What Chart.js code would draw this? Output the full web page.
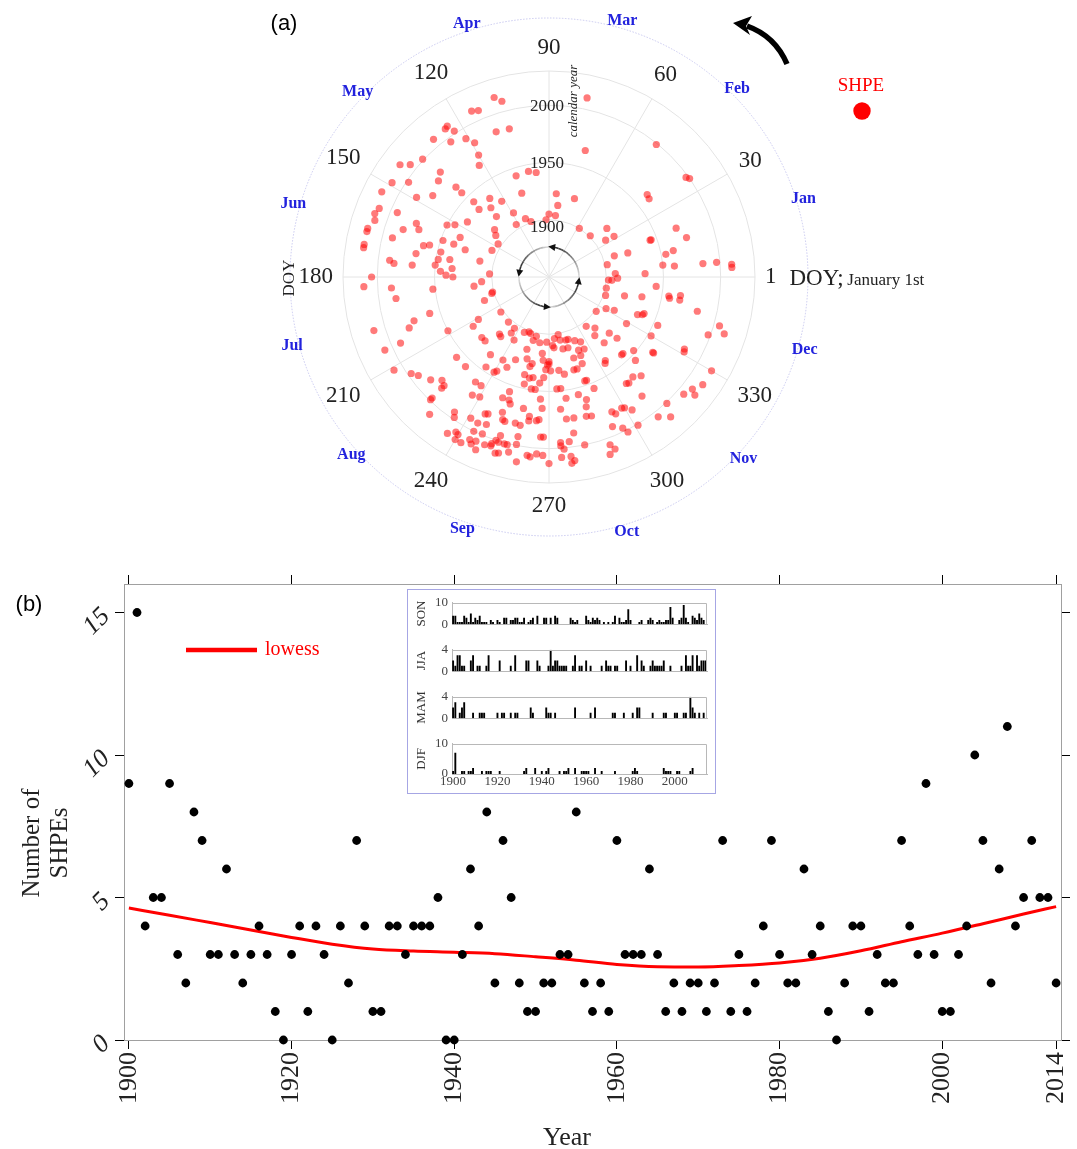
<!DOCTYPE html>
<html>
<head>
<meta charset="utf-8">
<script src="https://cdn.jsdelivr.net/npm/chart.js@4/dist/chart.umd.min.js"></script>
<style>
  body { margin: 0; background: #fff; }
  #page { position: relative; width: 1077px; height: 1149px; overflow: hidden; background: #fff; }
  canvas { position: absolute; }
  .inset-box { position: absolute; left: 407px; top: 589px; width: 307px; height: 203px; border: 1px solid #a6a6e4; background: #fff; }
</style>
</head>
<body>
<div id="page">
  <canvas id="polar" width="1077" height="545" style="left:0;top:0"></canvas>
  <canvas id="counts" width="1077" height="604" style="left:0;top:545px"></canvas>
  <div class="inset-box"></div>
  <canvas id="son" width="305" height="45" style="left:407px;top:591px"></canvas>
  <canvas id="jja" width="305" height="45" style="left:407px;top:638px"></canvas>
  <canvas id="mam" width="305" height="45" style="left:407px;top:685px"></canvas>
  <canvas id="djf" width="305" height="60" style="left:407px;top:732px"></canvas>
</div>
<script>
const SERIF = '"Liberation Serif", "Times New Roman", serif';
const SANS = '"Liberation Sans", Arial, sans-serif';

// ---- (a) polar: day of year vs calendar year ----
const DOY_TICKS = ['1', '30', '60', '90', '120', '150', '180', '210', '240', '270', '300', '330'];
const MONTHS = ['Jan', 'Feb', 'Mar', 'Apr', 'May', 'Jun', 'Jul', 'Aug', 'Sep', 'Oct', 'Nov', 'Dec'];
const RING_YEARS = [1850, 1900, 1950, 2000, 2030];
const RING_LABELS = [1900, 1950, 2000];

const shpeDoy = [
  108,106,117,115,126,127,125,112,106,132,128,123,121,122,124,139,143,145,138,141,
  148,151,155,138,138,151,147,109,102,98,110,129,124,137,132,138,121,133,114,110,
  91,94,124,160,159,162,164,167,168,172,173,164,168,160,162,155,153,148,158,163,
  168,167,163,164,141,144,149,157,172,169,173,172,176,177,177,176,169,177,179,181,179,
  79,75,52,37,35,41,39,86,84,73,85,59,46,41,33,32,18,17,12,3,
  2,20,20,21,16,11,12,6,5,5,5,4,3,
  364,362,362,354,347,351,353,360,356,355,357,355,352,349,347,345,336,338,329,342,
  344,343,341,334,311,316,312,321,322,314,335,329,328,337,336,335,330,326,323,325,
  317,315,312,323,318,317,320,308,307,317,314,311,310,312,296,294,293,303,304,306,
  299,300,297,300,301,305,294,295,293,286,288,291,290,289,291,282,279,281,284,283,
  281,278,278,279,278,281,282,281,283,279,284,277,278,289,291,296,289,285,296,300,
  300,274,291,296,295,274,275,291,289,280,283,278,280,
  183,186,187,191,189,183,190,187,198,199,203,200,200,201,203,207,207,214,218,220,
  224,227,229,229,229,229,232,211,216,214,219,225,228,232,234,231,239,239,244,249,
  253,256,262,260,266,272,257,269,236,244,251,224,230,238,243,244,248,259,262,263,
  260,263,265,270,273,272,271,261,265,267,269,238,241,240,243,254,255,257,252,270,
  271,263,266,269,270,266,238,239,244,247,248,249,250,254,255,257,261,263,240,242,
  243,243,245,247,250,247,249,248,250,252,254,255,254,257,257,259,260,257,258,261,
  263,263,264,267,268,270,272,274,271,272
];
const shpeYear = [
  2014,2009,2010,2008,2009,2008,2002,1985,1984,2007,1996,1991,1984,1973,1965,2001,2006,2013,1982,1978,
  1998,2010,2014,1963,1956,1985,1974,1943,1944,1942,1927,1936,1928,1943,1929,1935,1914,1920,1905,1901,
  1905,1900,1904,2010,1994,2012,2010,2014,2014,2014,2014,1984,1991,1975,1971,1950,1944,1936,1935,1948,
  1963,1958,1938,1927,1913,1909,1903,1905,1968,1947,1948,1938,1990,1986,1970,1950,1912,1935,1945,1940,1902,
  2010,1965,1999,1998,2000,1962,1961,1923,1913,1922,1904,1900,1901,1916,1909,1917,1910,1922,1902,1908,
  1934,1944,1945,1969,1975,1954,1961,1950,1960,1985,1997,2010,2010,
  1910,1902,1905,1901,1902,1918,1933,1944,1956,1957,1966,1966,1983,2005,2011,1998,1907,1914,1901,1934,
  1939,1938,1954,1929,1904,1910,1915,1922,1930,1925,1953,1962,1963,1984,1985,2014,2014,2009,2006,2014,
  2001,2012,2005,1948,1943,1943,1955,1938,1940,1968,1964,1966,1965,1982,1955,1946,1946,1981,1982,1987,
  1980,1983,1992,1997,2002,2001,2006,2011,2014,2000,1956,1962,1968,1976,1977,1957,1966,1975,1975,1988,
  1995,1995,1998,2001,2008,2008,2012,2014,1901,1904,1906,1910,1912,1907,1907,1910,1914,1914,1919,1920,
  1913,1924,1924,1924,1931,1926,1932,1934,1934,1932,1936,1948,1948,
  2005,2012,1988,1985,1952,1934,1916,1909,1901,1902,1910,1959,2010,1974,1980,1992,2007,2008,1997,1993,
  1987,1980,1982,1985,1997,1999,2009,1950,1929,1922,1902,1929,1929,1916,1917,1903,1909,1904,1913,1903,
  1901,1902,1903,1907,1908,1907,1916,1917,1935,1933,1928,1957,1957,1946,1946,1944,1937,1924,1930,1927,
  1938,1940,1939,1923,1927,1931,1938,1946,1949,1949,1943,1962,1962,1973,1971,1956,1963,1966,1963,1957,
  1965,1967,1973,1976,1975,1977,1994,1998,1991,1992,1982,1981,1990,1975,1981,1982,1981,1982,2013,2008,
  2009,2014,2014,2000,1999,2008,2007,2011,2014,2007,2006,2000,2004,1995,2001,2001,2001,2011,2010,2007,
  1992,1999,2014,2007,2008,2005,2006,2013,1990,1990
];

// ---- (b) annual counts, lowess, seasonal inset ----
const FIRST_YEAR = 1900;
const counts = [
  9,15,4,5,5,9,3,2,8,7,   3,3,6,3,2,3,4,3,1,0,
  3,4,1,4,3,0,4,2,7,4,    1,1,4,4,3,4,4,4,5,0,
  0,3,6,4,8,2,7,5,2,1,    1,2,2,3,3,8,2,1,2,1,
  7,3,3,3,6,3,1,2,1,2,    2,1,2,7,1,3,1,2,4,7,
  3,2,2,6,3,4,1,0,2,4,    4,1,3,2,2,7,4,3,9,3,
  1,1,3,4,10,7,2,6,11,4,  5,7,5,5,2
];
const lowessYears = [1900,1905,1910,1915,1920,1925,1930,1935,1940,1945,1950,1955,1960,1965,1970,1975,1980,1985,1990,1995,2000,2005,2010,2014];
const lowessValues = [4.63,4.38,4.12,3.86,3.60,3.36,3.19,3.12,3.08,3.03,2.92,2.80,2.65,2.57,2.56,2.61,2.70,2.87,3.13,3.45,3.75,4.08,4.42,4.68];
const yearTicks = [1900, 1920, 1940, 1960, 1980, 2000, 2014];
const countTicks = [0, 5, 10, 15];

const son = [
  4,4,1,1,1,4,3,1,5,1, 3,2,4,1,1,1,0,2,1,0, 2,1,0,3,3,0,2,2,3,3, 1,1,3,0,1,2,3,0,4,0,
  0,3,3,0,3,0,4,3,0,0, 0,0,0,3,2,1,2,0,0,0, 4,2,1,3,2,3,2,0,1,0, 1,0,1,4,0,3,1,1,2,7,
  2,0,0,0,1,2,0,0,2,3, 2,0,1,2,1,1,2,2,8,3, 0,0,2,3,9,3,1,0,4,3, 2,5,3,2,0
];
const jja = [
  2,1,3,3,1,1,0,0,2,3, 0,1,1,0,0,1,3,0,0,0, 0,2,0,0,0,0,1,0,3,0, 0,0,0,2,2,0,0,0,2,1,
  0,0,0,1,4,1,2,2,1,1, 1,1,0,0,1,3,0,1,1,0, 2,0,1,0,0,0,0,1,0,2, 1,1,0,1,1,0,0,0,2,0,
  1,0,0,3,0,2,1,0,0,1, 2,1,1,1,1,2,0,0,1,0, 0,0,0,1,0,3,1,1,3,0, 3,1,2,2,2
];
const mam = [
  2,3,0,1,2,3,0,0,0,1, 0,0,1,1,1,0,0,0,0,0, 1,0,1,1,0,0,1,0,1,1, 0,0,0,0,0,2,1,0,0,0,
  0,0,2,1,1,0,1,0,0,0, 0,0,0,0,0,2,0,0,0,0, 0,0,1,0,2,0,0,0,0,0, 0,0,1,1,0,0,0,1,0,0,
  0,1,0,2,2,0,0,0,0,0, 1,0,0,0,0,1,1,0,0,0, 1,1,0,0,1,1,0,4,2,1, 0,1,0,1,0
];
const djf = [
  1,7,0,0,1,1,0,1,1,2, 0,0,0,1,0,1,1,1,0,0, 0,1,0,0,0,0,0,0,0,0, 0,0,1,2,0,0,0,2,0,0,
  1,0,1,2,0,0,0,0,1,0, 1,1,2,0,0,2,0,0,1,1, 1,1,0,0,2,0,0,1,0,0, 0,0,0,1,0,0,0,0,0,0,
  0,1,2,1,0,0,0,0,0,0, 0,0,0,0,0,2,1,1,1,0, 0,1,1,0,0,0,0,1,2,0, 0,0,0,0,0
];
const insetTicks = [1900, 1920, 1940, 1960, 1980, 2000];

// angle labels run counter-clockwise from the east, one per degree
const ANGLE_LABELS = Array.from({ length: 360 }, (_, i) => (360 - i) % 360);
// where the month names sit around the dial (degrees from the east)
const MONTH_DEG = [17, 45, 74, 108, 136, 164, 195, 222, 251, 287, 317, 344];

function angleIndex(deg) {
  return (360 - (Math.round(deg) % 360)) % 360;
}

// a radar dataset holds one value per angle, so stack coincident days into extra sets
function polarDatasets() {
  const slots = [];
  shpeDoy.forEach((d, k) => {
    const idx = angleIndex(d * 360 / 365);
    let slot = slots.find(s => s[idx] === null);
    if (!slot) { slot = new Array(360).fill(null); slots.push(slot); }
    slot[idx] = shpeYear[k];
  });
  return slots.map(s => ({
    data: s,
    showLine: false,
    fill: false,
    borderWidth: 0,
    borderColor: 'rgba(0,0,0,0)',
    backgroundColor: 'rgba(0,0,0,0)',
    pointRadius: 3.6,
    pointBackgroundColor: 'rgba(255,0,0,0.52)',
    pointBorderWidth: 0,
    pointHoverRadius: 0
  }));
}

function arrowHead(ctx, x, y, dx, dy, len, half) {
  const nx = -dy, ny = dx;
  ctx.beginPath();
  ctx.moveTo(x + dx * len, y + dy * len);
  ctx.lineTo(x - dx * 2 + nx * half, y - dy * 2 + ny * half);
  ctx.lineTo(x - dx * 2 - nx * half, y - dy * 2 - ny * half);
  ctx.closePath();
  ctx.fill();
}

const polarDecor = {
  id: 'polarDecor',
  afterDraw(chart) {
    const s = chart.scales.r;
    const ctx = chart.ctx;
    const cx = s.xCenter, cy = s.yCenter;
    const at = (deg, dist) => s.getPointPosition(angleIndex(deg), dist);
    ctx.save();

    // month circle
    ctx.strokeStyle = 'rgba(185,185,235,0.75)';
    ctx.lineWidth = 1;
    ctx.setLineDash([1.5, 1.5]);
    ctx.beginPath();
    ctx.arc(cx, cy, 259, 0, Math.PI * 2);
    ctx.stroke();
    ctx.setLineDash([]);

    // day-of-year ticks
    ctx.font = `23px ${SERIF}`;
    ctx.fillStyle = '#222';
    ctx.textAlign = 'center';
    ctx.textBaseline = 'middle';
    let oneRight = 0;
    DOY_TICKS.forEach((lab, k) => {
      const deg = k * 30, rad = deg * Math.PI / 180;
      const w = ctx.measureText(lab).width;
      const p = at(deg, 216 + Math.abs(Math.cos(rad)) * w / 2 + Math.abs(Math.sin(rad)) * 13);
      ctx.fillText(lab, p.x, p.y);
      if (k === 0) oneRight = p.x + w / 2;
    });
    ctx.textAlign = 'left';
    ctx.textBaseline = 'alphabetic';
    ctx.fillText('DOY;', oneRight + 13, cy + 8);
    const doyW = ctx.measureText('DOY; ').width;
    ctx.font = `17px ${SERIF}`;
    ctx.fillText('January 1st', oneRight + 13 + doyW - 2, cy + 8);

    // months
    ctx.font = `bold 16px ${SERIF}`;
    ctx.fillStyle = '#2222dd';
    ctx.textAlign = 'center';
    ctx.textBaseline = 'middle';
    MONTHS.forEach((m, k) => {
      const p = at(MONTH_DEG[k], 266);
      ctx.fillText(m, p.x, p.y);
    });

    // calendar year rings
    ctx.font = `17px ${SERIF}`;
    ctx.fillStyle = '#222';
    RING_LABELS.forEach(y => {
      ctx.fillText(String(y), cx - 2, cy - s.getDistanceFromCenterForValue(y) + (y === 1900 ? 8 : 1));
    });
    ctx.save();
    ctx.translate(574, 101);
    ctx.rotate(-Math.PI / 2);
    ctx.font = `italic 13px ${SERIF}`;
    ctx.fillText('calendar year', 0, 0);
    ctx.restore();

    ctx.save();
    ctx.translate(290, 278);
    ctx.rotate(-Math.PI / 2);
    ctx.font = `17px ${SERIF}`;
    ctx.fillText('DOY', 0, 0);
    ctx.restore();

    // small direction circle at the centre
    const rr = 30;
    [82, 170, 264, 350].forEach(h => {
      const steps = 16, span = 84;
      for (let i = 0; i < steps; i++) {
        const a0 = (h - span + i * span / steps) * Math.PI / 180;
        const a1 = (h - span + (i + 1) * span / steps) * Math.PI / 180;
        ctx.strokeStyle = `rgba(20,20,20,${0.08 + 0.85 * (i + 1) / steps})`;
        ctx.lineWidth = 1.6;
        ctx.beginPath();
        ctx.arc(cx, cy, rr, -a0, -a1, true);
        ctx.stroke();
      }
      const t = h * Math.PI / 180;
      ctx.fillStyle = '#111';
      arrowHead(ctx, cx + rr * Math.cos(t), cy - rr * Math.sin(t), -Math.sin(t), -Math.cos(t), 5, 3.5);
    });

    // curved arrow and legend, top right
    ctx.strokeStyle = '#000';
    ctx.lineWidth = 5.5;
    ctx.beginPath();
    ctx.moveTo(787, 64);
    ctx.quadraticCurveTo(775, 36, 747, 26);
    ctx.stroke();
    ctx.fillStyle = '#000';
    ctx.beginPath();
    ctx.moveTo(733, 23);
    ctx.lineTo(752, 16);
    ctx.lineTo(746, 26);
    ctx.lineTo(750, 35);
    ctx.closePath();
    ctx.fill();

    ctx.fillStyle = '#ff0000';
    ctx.font = `19px ${SERIF}`;
    ctx.textAlign = 'center';
    ctx.fillText('SHPE', 861, 86);
    ctx.beginPath();
    ctx.arc(862, 111, 8.7, 0, Math.PI * 2);
    ctx.fill();

    ctx.fillStyle = '#000';
    ctx.font = `22px ${SANS}`;
    ctx.fillText('(a)', 284, 24);
    ctx.restore();
  }
};

new Chart(document.getElementById('polar'), {
  type: 'radar',
  data: { labels: ANGLE_LABELS, datasets: polarDatasets() },
  options: {
    responsive: false,
    animation: false,
    events: [],
    layout: { padding: { left: 343, top: 71, right: 322, bottom: 62 } },
    plugins: { legend: { display: false }, tooltip: { enabled: false }, colors: { enabled: false }, filler: { propagate: false } },
    elements: { line: { borderWidth: 0, fill: false } },
    scales: {
      r: {
        min: RING_YEARS[0],
        max: RING_YEARS[RING_YEARS.length - 1],
        startAngle: 90,
        afterBuildTicks: sc => { sc.ticks = RING_YEARS.map(v => ({ value: v })); },
        ticks: { display: false },
        pointLabels: { display: false },
        grid: { circular: true, color: '#e4e4e4', lineWidth: 1 },
        angleLines: {
          color: '#e4e4e4',
          lineWidth: c => (ANGLE_LABELS[c.index] % 30 === 0 ? 1 : 0)
        }
      }
    }
  },
  plugins: [polarDecor]
});

// ---- (b) ----
const countsDecor = {
  id: 'countsDecor',
  afterDraw(chart) {
    const ctx = chart.ctx;
    ctx.save();
    ctx.fillStyle = '#000';
    ctx.textAlign = 'center';
    ctx.textBaseline = 'middle';
    ctx.font = `22px ${SANS}`;
    ctx.fillText('(b)', 29, 60);

    ctx.font = `25px ${SERIF}`;
    ctx.fillStyle = '#222';
    ctx.save();
    ctx.translate(32, 298);
    ctx.rotate(-Math.PI / 2);
    ctx.fillText('Number of', 0, 0);
    ctx.restore();
    ctx.save();
    ctx.translate(60, 298);
    ctx.rotate(-Math.PI / 2);
    ctx.fillText('SHPEs', 0, 0);
    ctx.restore();

    ctx.font = `26px ${SERIF}`;
    ctx.fillText('Year', 567, 593);

    ctx.strokeStyle = '#ff0000';
    ctx.lineWidth = 4.5;
    ctx.beginPath();
    ctx.moveTo(186, 105);
    ctx.lineTo(257, 105);
    ctx.stroke();
    ctx.fillStyle = '#ff0000';
    ctx.font = `20px ${SERIF}`;
    ctx.textAlign = 'left';
    ctx.fillText('lowess', 265, 105);
    ctx.restore();
  }
};

function tickAxis(position, ticks, size, extra) {
  const horizontal = position === 'top' || position === 'bottom';
  return Object.assign({
    position,
    afterBuildTicks: sc => { sc.ticks = ticks.map(v => ({ value: v })); },
    afterFit: sc => {
      if (horizontal) { sc.height = size; sc.paddingLeft = 0; sc.paddingRight = 0; }
      else { sc.width = size; sc.paddingTop = 0; sc.paddingBottom = 0; }
    },
    grid: { drawOnChartArea: false, drawTicks: true, tickLength: 9, color: '#000', tickColor: '#000' },
    border: { color: '#a0a0a0', width: 1 },
    ticks: { display: false }
  }, extra);
}

new Chart(document.getElementById('counts'), {
  type: 'scatter',
  data: {
    datasets: [
      {
        data: counts.map((v, i) => ({ x: FIRST_YEAR + i, y: v })),
        backgroundColor: '#000',
        pointRadius: 4.4,
        pointBorderWidth: 0,
        clip: false
      },
      {
        data: lowessYears.map((y, i) => ({ x: y, y: lowessValues[i] })),
        showLine: true,
        borderColor: '#ff0000',
        borderWidth: 3,
        pointRadius: 0,
        cubicInterpolationMode: 'monotone'
      }
    ]
  },
  options: {
    responsive: false,
    animation: false,
    events: [],
    layout: { padding: 0 },
    plugins: { legend: { display: false }, tooltip: { enabled: false } },
    scales: {
      x: tickAxis('bottom', yearTicks, 109, {
        type: 'linear', min: 1899.4, max: 2014.6,
        ticks: { display: true, autoSkip: false, minRotation: 90, maxRotation: 90, padding: 3, color: '#222',
                 font: { family: SERIF, size: 26 }, callback: v => String(v) }
      }),
      xTop: tickAxis('top', yearTicks, 39, { type: 'linear', min: 1899.4, max: 2014.6 }),
      y: tickAxis('left', countTicks, 124, {
        min: 0, max: 16,
        ticks: { display: true, autoSkip: false, minRotation: 45, maxRotation: 45, padding: 9, color: '#222',
                 font: { family: SERIF, size: 26, style: 'italic' }, callback: v => String(v) }
      }),
      yRight: tickAxis('right', countTicks, 16, { min: 0, max: 16 })
    }
  },
  plugins: [countsDecor]
});

// ---- seasonal inset ----
const insetFrame = {
  id: 'insetFrame',
  afterDraw(chart) {
    const a = chart.chartArea, ctx = chart.ctx;
    ctx.save();
    ctx.strokeStyle = '#b8b8b8';
    ctx.lineWidth = 1;
    ctx.beginPath();
    ctx.moveTo(Math.round(a.left) + 0.5, Math.round(a.top) + 0.5);
    ctx.lineTo(Math.round(a.right) - 0.5, Math.round(a.top) + 0.5);
    ctx.lineTo(Math.round(a.right) - 0.5, Math.round(a.bottom));
    ctx.stroke();
    ctx.restore();
  }
};

function insetChart(id, label, values, yMax, yTicks, showYears) {
  return new Chart(document.getElementById(id), {
    type: 'bar',
    data: {
      datasets: [{
        data: values.map((v, i) => ({ x: FIRST_YEAR + i, y: v })),
        backgroundColor: '#000',
        borderWidth: 0,
        barPercentage: 1,
        categoryPercentage: 0.85
      }]
    },
    options: {
      responsive: false,
      animation: false,
      events: [],
      layout: { padding: { top: 7, right: 5, bottom: showYears ? 0 : 2, left: 0 } },
      plugins: { legend: { display: false }, tooltip: { enabled: false } },
      scales: {
        x: {
          type: 'linear', min: 1899.5, max: 2014.5, offset: false,
          afterBuildTicks: sc => { sc.ticks = insetTicks.map(v => ({ value: v })); },
          afterFit: sc => { sc.height = showYears ? 18 : 0; sc.paddingLeft = 0; sc.paddingRight = 0; },
          grid: { display: false, drawTicks: false, offset: false },
          border: { color: '#b8b8b8' },
          ticks: { display: showYears, autoSkip: false, maxRotation: 0, padding: 0, color: '#444',
                   font: { family: SERIF, size: 13 }, callback: v => String(v) }
        },
        y: {
          min: 0, max: yMax,
          afterBuildTicks: sc => { sc.ticks = yTicks.map(v => ({ value: v })); },
          afterFit: sc => { sc.width = 45; },
          grid: { display: false, drawTicks: false },
          border: { color: '#b8b8b8' },
          ticks: { padding: 4, color: '#444', font: { family: SERIF, size: 13 } },
          title: { display: true, text: label, color: '#333', padding: { top: 7, bottom: 0 }, font: { family: SERIF, size: 13 } }
        }
      }
    },
    plugins: [insetFrame]
  });
}

insetChart('son', 'SON', son, 10, [0, 5, 10], false);
insetChart('jja', 'JJA', jja, 4, [0, 2, 4], false);
insetChart('mam', 'MAM', mam, 4, [0, 2, 4], false);
insetChart('djf', 'DJF', djf, 10, [0, 5, 10], true);
</script>
</body>
</html>
